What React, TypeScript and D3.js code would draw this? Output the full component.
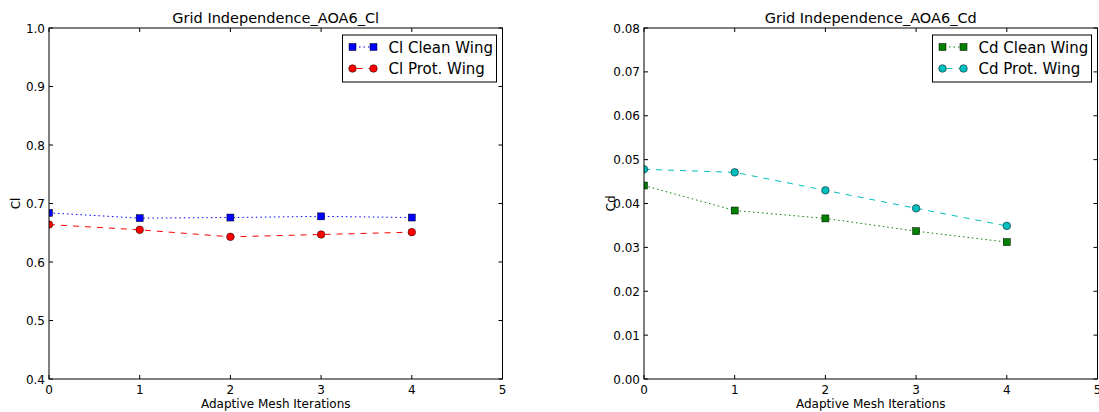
import React, { useEffect, useRef } from 'react';
import * as d3 from 'd3';

const iterations = [0, 1, 2, 3, 4];
const clClean = [0.684, 0.675, 0.676, 0.678, 0.676];
const clProt = [0.664, 0.655, 0.643, 0.647, 0.651];
const cdClean = [0.0441, 0.0384, 0.0366, 0.0337, 0.0312];
const cdProt = [0.0478, 0.0471, 0.043, 0.0389, 0.0349];

const clTicks = [0.4, 0.5, 0.6, 0.7, 0.8, 0.9, 1.0];
const cdTicks = [0, 0.01, 0.02, 0.03, 0.04, 0.05, 0.06, 0.07, 0.08];
const xTicks = [0, 1, 2, 3, 4, 5];

const FONT = 'DejaVu Sans, sans-serif';

type Series = {
  label: string;
  values: number[];
  color: string;
  dash: string;
  marker: 'square' | 'circle';
};

type Panel = {
  title: string;
  ylabel: string;
  left: number;
  yDomain: [number, number];
  yTicks: number[];
  yFormat: (v: number) => string;
  series: Series[];
  legendWidth: number;
};

const panels: Panel[] = [
  {
    title: 'Grid Independence_AOA6_Cl',
    ylabel: 'Cl',
    left: 49,
    yDomain: [0.4, 1.0],
    yTicks: clTicks,
    yFormat: d3.format('.1f'),
    legendWidth: 154,
    series: [
      { label: 'Cl Clean Wing', values: clClean, color: '#0000ff', dash: '1.5,3', marker: 'square' },
      { label: 'Cl Prot. Wing', values: clProt, color: '#ff0000', dash: '6,6', marker: 'circle' },
    ],
  },
  {
    title: 'Grid Independence_AOA6_Cd',
    ylabel: 'Cd',
    left: 644,
    yDomain: [0, 0.08],
    yTicks: cdTicks,
    yFormat: d3.format('.2f'),
    legendWidth: 159,
    series: [
      { label: 'Cd Clean Wing', values: cdClean, color: '#008000', dash: '1.5,3', marker: 'square' },
      { label: 'Cd Prot. Wing', values: cdProt, color: '#00bfbf', dash: '6,6', marker: 'circle' },
    ],
  },
];

const App = () => {
  const svgRef = useRef<SVGSVGElement>(null);

  useEffect(() => {
    const svg = d3.select(svgRef.current);
    svg.selectAll('*').remove();

    const top = 28;
    const bottom = 379;
    const plotW = 453.5;
    const defs = svg.append('defs');

    const drawMarker = (g: any, s: Series, x: number, y: number) => {
      if (s.marker === 'square') {
        g.append('rect')
          .attr('x', x - 3.5)
          .attr('y', y - 3.5)
          .attr('width', 7)
          .attr('height', 7)
          .attr('fill', s.color)
          .attr('stroke', '#000')
          .attr('stroke-width', 0.5);
      } else {
        g.append('circle')
          .attr('cx', x)
          .attr('cy', y)
          .attr('r', 3.8)
          .attr('fill', s.color)
          .attr('stroke', '#000')
          .attr('stroke-width', 0.5);
      }
    };

    panels.forEach(p => {
      const x = d3.scaleLinear().domain([0, 5]).range([p.left, p.left + plotW]);
      const y = d3.scaleLinear().domain(p.yDomain).range([bottom, top]);
      const g = svg.append('g');

      g.append('rect')
        .attr('x', p.left)
        .attr('y', top)
        .attr('width', plotW)
        .attr('height', bottom - top)
        .attr('fill', 'white');

      // series, clipped to the axes box
      const clip = `clip-${p.ylabel}`;
      defs.append('clipPath').attr('id', clip)
        .append('rect').attr('x', p.left).attr('y', top).attr('width', plotW).attr('height', bottom - top);
      const sg = g.append('g').attr('clip-path', `url(#${clip})`);

      p.series.forEach(s => {
        const line = d3.line<number>()
          .x((_, i) => x(iterations[i]))
          .y(d => y(d));
        sg.append('path')
          .datum(s.values)
          .attr('d', line)
          .attr('fill', 'none')
          .attr('stroke', s.color)
          .attr('stroke-width', 1)
          .attr('stroke-dasharray', s.dash);
        s.values.forEach((v, i) => drawMarker(sg, s, x(iterations[i]), y(v)));
      });

      // frame
      g.append('rect')
        .attr('x', p.left)
        .attr('y', top)
        .attr('width', plotW)
        .attr('height', bottom - top)
        .attr('fill', 'none')
        .attr('stroke', '#000')
        .attr('stroke-width', 1);

      // x ticks (inside, top and bottom)
      xTicks.forEach(t => {
        const px = x(t);
        g.append('line').attr('x1', px).attr('x2', px).attr('y1', bottom).attr('y2', bottom - 4).attr('stroke', '#000');
        g.append('line').attr('x1', px).attr('x2', px).attr('y1', top).attr('y2', top + 4).attr('stroke', '#000');
        g.append('text')
          .attr('x', px)
          .attr('y', bottom + 15)
          .attr('text-anchor', 'middle')
          .style('font-family', FONT)
          .style('font-size', '12px')
          .text(String(t));
      });

      // y ticks (inside, left and right)
      p.yTicks.forEach(t => {
        const py = y(t);
        g.append('line').attr('x1', p.left).attr('x2', p.left + 4).attr('y1', py).attr('y2', py).attr('stroke', '#000');
        g.append('line').attr('x1', p.left + plotW).attr('x2', p.left + plotW - 4).attr('y1', py).attr('y2', py).attr('stroke', '#000');
        g.append('text')
          .attr('x', p.left - 4)
          .attr('y', py + 4.5)
          .attr('text-anchor', 'end')
          .style('font-family', FONT)
          .style('font-size', '12px')
          .text(p.yFormat(t));
      });

      // title
      g.append('text')
        .attr('x', p.left + plotW / 2)
        .attr('y', 23)
        .attr('text-anchor', 'middle')
        .style('font-family', FONT)
        .style('font-size', '14.5px')
        .text(p.title);

      // axis labels
      g.append('text')
        .attr('x', p.left + plotW / 2)
        .attr('y', 408)
        .attr('text-anchor', 'middle')
        .style('font-family', FONT)
        .style('font-size', '12px')
        .text('Adaptive Mesh Iterations');

      g.append('text')
        .attr('transform', `translate(${p.left - 29},${(top + bottom) / 2}) rotate(-90)`)
        .attr('text-anchor', 'middle')
        .style('font-family', FONT)
        .style('font-size', '12px')
        .text(p.ylabel);

      // legend
      const lx = p.left + plotW - 6 - p.legendWidth;
      const ly = 35;
      const lg = g.append('g');
      lg.append('rect')
        .attr('x', lx)
        .attr('y', ly)
        .attr('width', p.legendWidth)
        .attr('height', 47)
        .attr('fill', 'white')
        .attr('stroke', '#000')
        .attr('stroke-width', 1);
      p.series.forEach((s, i) => {
        const ry = ly + 12 + i * 21.5;
        lg.append('line')
          .attr('x1', lx + 10)
          .attr('x2', lx + 31)
          .attr('y1', ry)
          .attr('y2', ry)
          .attr('stroke', s.color)
          .attr('stroke-dasharray', s.dash)
          .attr('stroke-dashoffset', s.marker === 'square' ? -2 : -4);
        drawMarker(lg, s, lx + 10, ry);
        drawMarker(lg, s, lx + 31, ry);
        lg.append('text')
          .attr('x', lx + 46)
          .attr('y', ry + 5.5)
          .style('font-family', FONT)
          .style('font-size', '15px')
          .text(s.label);
      });
    });
  }, []);

  return (
    <svg
      ref={svgRef}
      width={1099}
      height={412}
      style={{ position: 'absolute', left: 0, top: 0, background: 'white' }}
    />
  );
};

export default App;
